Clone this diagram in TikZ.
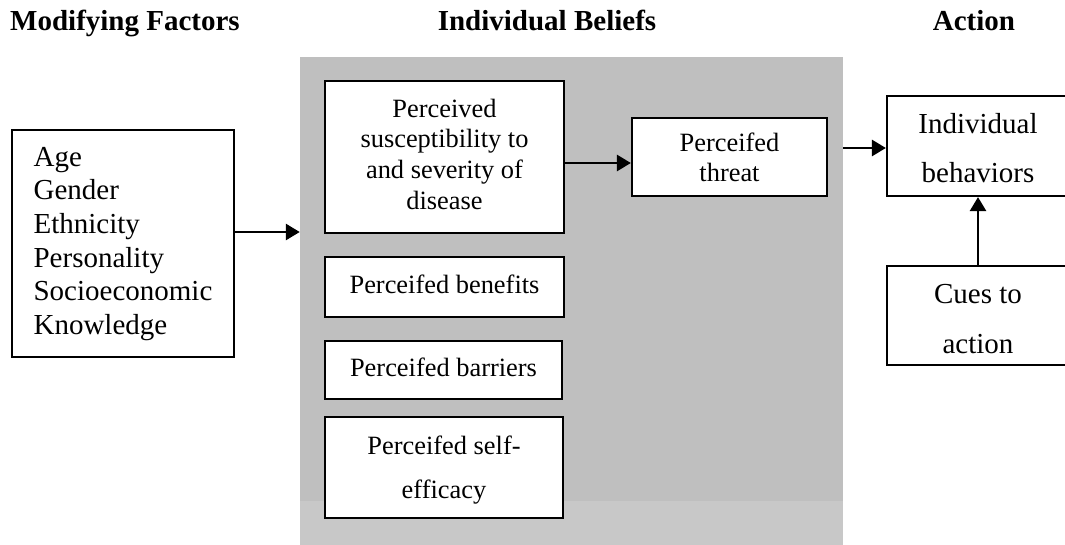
\documentclass[tikz,border=0pt]{standalone}
\usepackage{fontspec}
\setmainfont{Liberation Serif}
\usetikzlibrary{arrows.meta}

\definecolor{panelgray}{RGB}{191,191,191}
\definecolor{bandgray}{RGB}{200,200,200}

% invisible rules that fix the first-line height and the last-line depth
\newcommand{\tophold}[1]{\rule{0pt}{#1}}
\newcommand{\bothold}[1]{\rule[-#1]{0pt}{#1}}

\begin{document}
\begin{tikzpicture}[x=1pt, y=-1pt,
  box/.style={draw, line width=2.2pt, fill=white, inner sep=0pt, align=center},
  bigtext/.style={font=\fontsize{29}{33.6}\selectfont},
  smalltext/.style={font=\fontsize{26.4}{30.7}\selectfont},
  heading/.style={font=\fontsize{29}{33.6}\selectfont\bfseries, inner sep=0pt},
  arr/.style={line width=2.7pt, -{Triangle[length=14pt,width=16pt]}}
]
\useasboundingbox (0,0) rectangle (1065,545);
\clip (0,0) rectangle (1065,545);

% column headings
\node[heading, anchor=base west] (hmod) at (10,31) {Modifying Factors};
\node[heading, anchor=base] (hbel) at (547,31) {Individual Beliefs};
\node[heading, anchor=base] (hact) at (974,31) {Action};

% shaded panel holding the individual beliefs
\node[fill=panelgray, inner sep=0pt, minimum width=543pt, minimum height=488pt] (panel) at (571.5,301) {};
\fill[bandgray] (panel.south west) rectangle (panel.east |- 0,501);

% modifying factors
\node[box, bigtext, align=left, minimum width=222pt, minimum height=227pt] (mods) at (123,243.5)
  {\strut Age\\ Gender\\ Ethnicity\\ Personality\\ Socioeconomic\\ Knowledge\strut};

% individual beliefs
\node[box, smalltext, minimum width=239pt, minimum height=152pt] (susc) at (444.5,157)
  {\strut Perceived\\ susceptibility to\\ and severity of\\ disease\strut};
\node[box, font=\fontsize{26.4}{30}\selectfont, minimum width=195pt, minimum height=78pt] (threat) at (729.5,157)
  {\tophold{30pt}Perceifed\\ threat\bothold{10pt}};
\node[box, font=\fontsize{26.4}{33.6}\selectfont, minimum width=239pt, minimum height=60pt] (benef) at (444.5,287)
  {\strut Perceifed benefits};
\node[box, font=\fontsize{26.4}{33.6}\selectfont, minimum width=237pt, minimum height=58pt] (barr) at (443.5,370)
  {\strut Perceifed barriers};
\node[box, font=\fontsize{26.4}{44}\selectfont, minimum width=238pt, minimum height=101pt] (selfeff) at (444,467.5)
  {\strut Perceifed self-\\ efficacy\strut};

% action
\node[box, font=\fontsize{29}{49}\selectfont, minimum width=182pt, minimum height=100pt] (behav) at (978,146)
  {\tophold{36pt}Individual\\ behaviors\bothold{11pt}};
\node[box, font=\fontsize{29}{50}\selectfont, minimum width=182pt, minimum height=99pt] (cues) at (978,315.5)
  {\tophold{36pt}Cues to\\ action\bothold{11pt}};

% connector levels
\coordinate (inlevel) at (0,232);
\coordinate (threatlevel) at (0,163);
\coordinate (actlevel) at (0,148);

% connectors
\draw[arr] (mods.east |- inlevel) -- (panel.west |- inlevel);
\draw[arr] (susc.east |- threatlevel) -- (threat.west |- threatlevel);
\draw[arr] (panel.east |- actlevel) -- (behav.west |- actlevel);
\draw[arr] (cues.north) -- (behav.south);
\end{tikzpicture}
\end{document}
